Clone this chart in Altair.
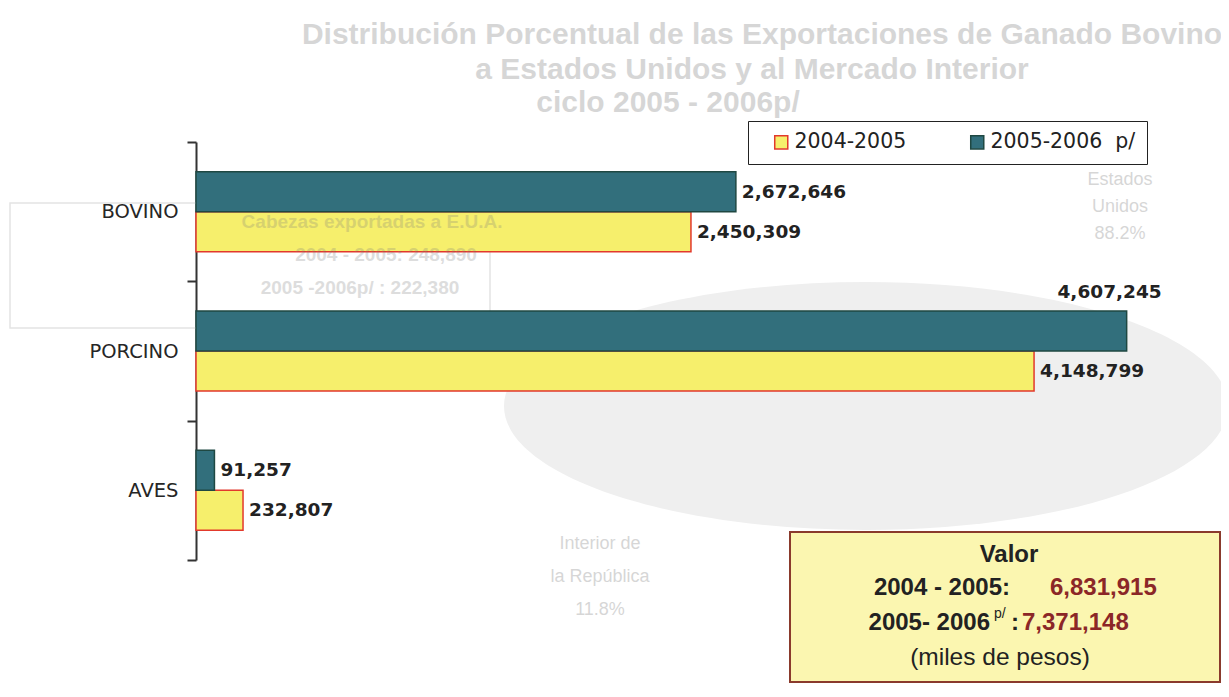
import altair as alt
import pandas as pd

# ---- data ----
categories = ["BOVINO", "PORCINO", "AVES"]
series_names = ["2004-2005", "2005-2006\u00a0\u00a0p/"]
values_2004_2005 = [2450309, 4148799, 232807]
values_2005_2006 = [2672646, 4607245, 91257]
total_labels = ["2004 - 2005:", "2005- 2006"]
totals = [6831915, 7371148]
box_title = "Valor"
box_note = "(miles de pesos)"
title_lines = [
    "Distribución Porcentual de las Exportaciones de Ganado Bovino",
    "a Estados Unidos y al Mercado Interior",
    "ciclo 2005 - 2006p/",
]
ghost_box_lines = ["Cabezas exportadas a E.U.A.", "2004 - 2005:   248,890", "2005 -2006p/ : 222,380"]
ghost_us_lines = ["Estados", "Unidos", "88.2%"]
ghost_mx_lines = ["Interior de", "la República", "11.8%"]

rows = []
for c, v1, v2 in zip(categories, values_2004_2005, values_2005_2006):
    rows.append({"category": c, "series": series_names[0], "value": v1})
    rows.append({"category": c, "series": series_names[1], "value": v2})
df = pd.DataFrame(rows)

YELLOW = "#f6ef6c"
TEAL = "#326f7c"
RED = "#e2392c"
DARK = "#1f4842"

x_enc = alt.X("value:Q", scale=alt.Scale(domain=[0, 5000000], nice=False, zero=True), axis=None)
y_enc = alt.Y(
    "category:N",
    sort=categories,
    scale=alt.Scale(paddingInner=0, paddingOuter=0),
    axis=alt.Axis(
        title=None, tickBand="extent", domainColor="#333", domainWidth=2,
        tickColor="#333", tickWidth=2, tickSize=9, labelFont="DejaVu Sans",
        labelFontSize=19.5, labelColor="#262626", labelPadding=9, grid=False,
    ),
)
yoff_enc = alt.YOffset(
    "series:N", sort=[series_names[1], series_names[0]],
    scale=alt.Scale(paddingOuter=0.74, paddingInner=0),
)

legend = alt.Legend(
    title="\u00a0", titleOrient="left", titlePadding=12, titleFontSize=20,
    orient="none", legendX=552, legendY=-21, direction="horizontal",
    padding=11, strokeColor="#222", fillColor="white",
    symbolType="square", symbolSize=170, symbolStrokeWidth=1.5, symbolOpacity=1,
    labelFont="DejaVu Sans", labelFontSize=20.5, labelColor="#222",
    labelOffset=3, columnPadding=60,
    labelExpr="indexof(datum.label, 'p/') >= 0 ? datum.label + '\u00a0\u00a0' : datum.label",
)

base = alt.Chart(df)

bars = base.mark_bar(strokeWidth=1.5, opacity=1).encode(
    x=x_enc, y=y_enc, yOffset=yoff_enc,
    color=alt.Color("series:N", scale=alt.Scale(domain=series_names, range=[YELLOW, TEAL]), legend=legend),
    stroke=alt.Stroke("series:N", scale=alt.Scale(domain=series_names, range=[RED, DARK]), legend=legend),
)

label_style = dict(font="DejaVu Sans", fontWeight="bold", fontSize=18.5, color="#222", baseline="middle")

labels = base.transform_filter(
    f"!(datum.category == 'PORCINO' && datum.series == '{series_names[1]}')"
).mark_text(align="left", dx=6, **label_style).encode(
    x=x_enc, y=y_enc, yOffset=yoff_enc, text=alt.Text("value:Q", format=",")
)

label_above = base.transform_filter(
    f"datum.category == 'PORCINO' && datum.series == '{series_names[1]}'"
).mark_text(align="right", dx=35, dy=-39, **label_style).encode(
    x=x_enc, y=y_enc, yOffset=yoff_enc, text=alt.Text("value:Q", format=",")
)

one = pd.DataFrame({"k": [0]})

def txt(text, x, y, align="center", size=24, weight="bold", color="#222",
        font="Liberation Sans", opacity=1.0):
    return alt.Chart(one).mark_text(
        align=align, baseline="middle", fontSize=size, fontWeight=weight,
        color=color, font=font, opacity=opacity,
    ).encode(x=alt.value(x), y=alt.value(y), text=alt.value(text))

# faint bleed-through of the facing page
GH = "#7a7a7a"
ghost_blob = alt.Chart(one).mark_point(
    shape="M -1 0 A 1 0.3425 0 1 0 1 0 A 1 0.3425 0 1 0 -1 0 Z",
    filled=True, fill="#efefef", opacity=1, strokeWidth=0, size=524176,
).encode(x=alt.value(670), y=alt.value(264))

ghost_box = alt.Chart(one).mark_rect(fill="white", fillOpacity=0, stroke="#e4e4e4", strokeWidth=1.5).encode(
    x=alt.value(-186), x2=alt.value(294), y=alt.value(61), y2=alt.value(186)
)

ghost_back = [ghost_blob, ghost_box]
ghost_front = [
    txt(title_lines[0], 566, -107, size=30, color=GH, opacity=0.3),
    txt(title_lines[1], 556, -72, size=30, color=GH, opacity=0.3),
    txt(title_lines[2], 472, -39, size=30, color=GH, opacity=0.3),
    txt(ghost_box_lines[0], 176, 80, size=19, color=GH, opacity=0.25),
    txt(ghost_box_lines[1], 190, 113, size=19, color=GH, opacity=0.25),
    txt(ghost_box_lines[2], 164, 146, size=19, color=GH, opacity=0.25),
    txt(ghost_us_lines[0], 924, 38, size=18, weight="normal", color=GH, opacity=0.3),
    txt(ghost_us_lines[1], 924, 65, size=18, weight="normal", color=GH, opacity=0.3),
    txt(ghost_us_lines[2], 924, 92, size=18, weight="normal", color=GH, opacity=0.3),
    txt(ghost_mx_lines[0], 404, 402, size=18, weight="normal", color=GH, opacity=0.3),
    txt(ghost_mx_lines[1], 404, 435, size=18, weight="normal", color=GH, opacity=0.3),
    txt(ghost_mx_lines[2], 404, 468, size=18, weight="normal", color=GH, opacity=0.3),
]

box = alt.Chart(one).mark_rect(fill="#fbf6b0", stroke="#8a3a2c", strokeWidth=2).encode(
    x=alt.value(594), x2=alt.value(1024), y=alt.value(390), y2=alt.value(540)
)

VAL = "#8b2727"
box_texts = [
    txt(box_title, 813, 413),
    txt(total_labels[0], 814, 446, align="right"),
    txt(f"{totals[0]:,}", 854, 446, align="left", color=VAL),
    txt(total_labels[1], 794, 481, align="right"),
    txt("p/", 798, 472, align="left", size=14, weight="normal"),
    txt(":", 815, 481, align="left"),
    txt(f"{totals[1]:,}", 826, 481, align="left", color=VAL),
    txt(box_note, 804, 516, size=24.5, weight="normal"),
]

chart = alt.layer(
    *ghost_back, bars, *ghost_front, labels, label_above, box, *box_texts
).properties(
    width=1010, height=418,
    autosize=alt.AutoSizeParams(type="none"),
    padding={"left": 188, "top": 134, "right": 15, "bottom": 129},
).configure(background="white").configure_view(strokeWidth=0)

chart.save("out.html", embed_options={"renderer": "svg", "actions": False})
